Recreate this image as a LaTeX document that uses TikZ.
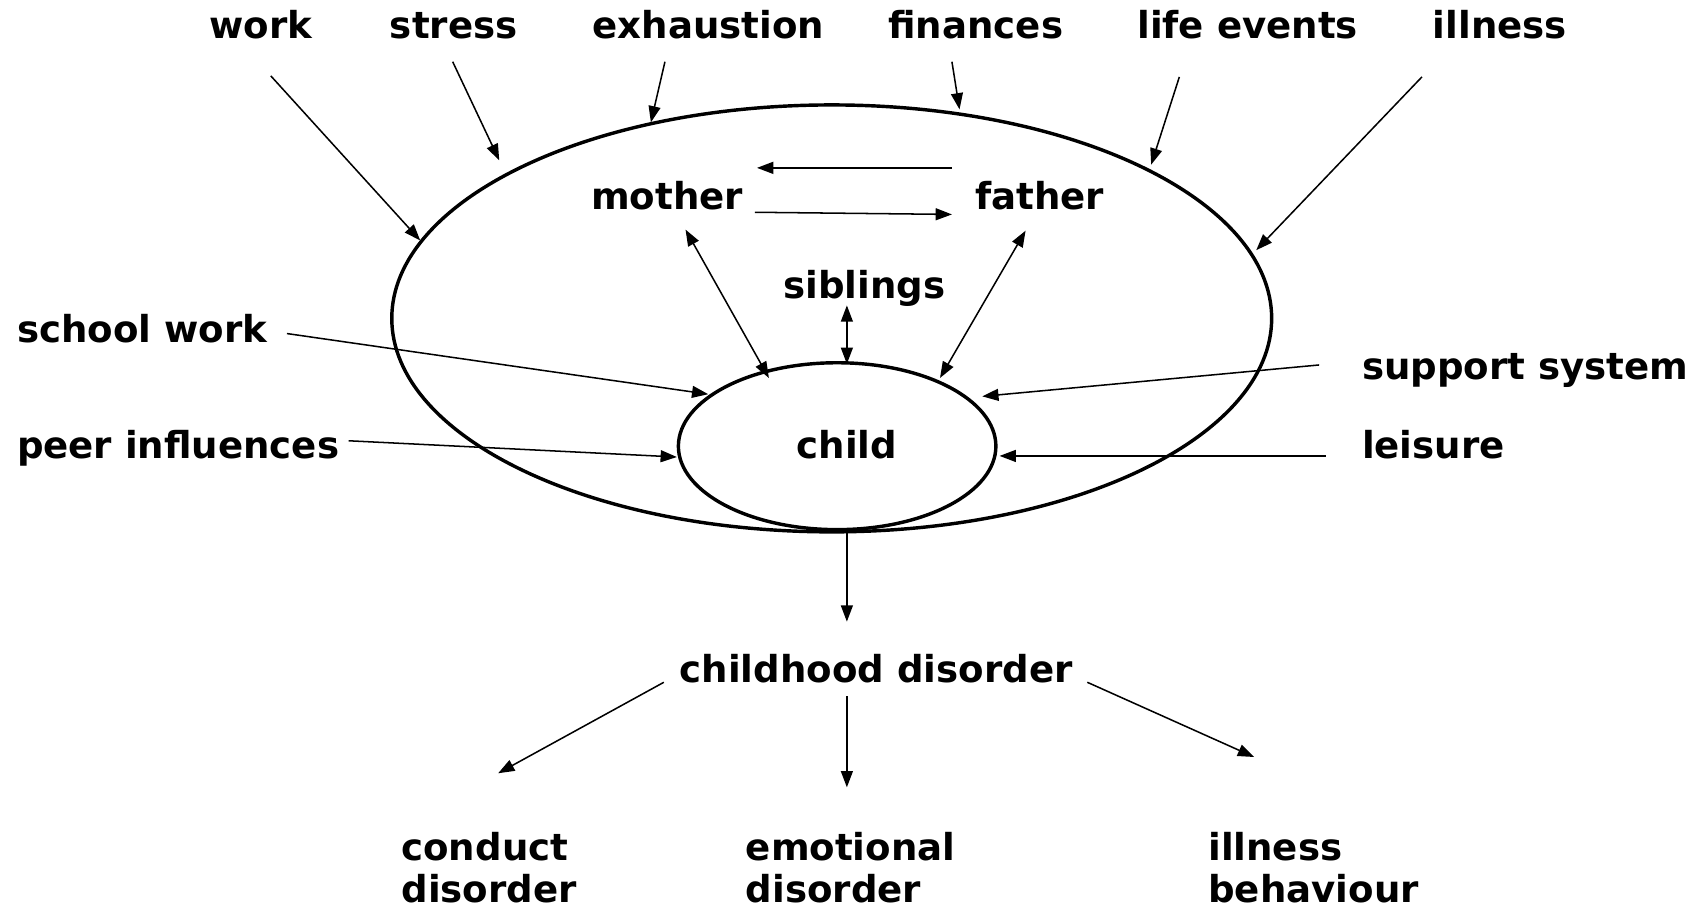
\documentclass[tikz,border=0pt]{standalone}
\usepackage{fontspec}
\setmainfont{DejaVu Sans}
\usetikzlibrary{arrows.meta,shapes.geometric}
\begin{document}
\begin{tikzpicture}[x=0.01cm,y=-0.01cm,
  lbl/.style={font=\fontsize{9.75pt}{11.4pt}\selectfont\bfseries, inner sep=0pt},
  arr/.style={line width=0.4pt, -{Triangle[length=0.15cm,width=0.11cm]}},
  darr/.style={line width=0.4pt, {Triangle[length=0.15cm,width=0.11cm]}-{Triangle[length=0.15cm,width=0.11cm]}},
  ring/.style={draw, ellipse, line width=0.9pt, inner sep=0pt}]
\useasboundingbox (0,0) rectangle (1567,839);
% ellipses
\node[ring, minimum width=8.12cm, minimum height=3.94cm] (family) at (768,294) {};
\node[ring, minimum width=2.93cm, minimum height=1.54cm] (childring) at (773,412) {};
% labels
\node[lbl, anchor=base] (work) at (241,36) {work};
\node[lbl, anchor=base] (stress) at (419,36) {stress};
\node[lbl, anchor=base] (exhaustion) at (654,36) {exhaustion};
\node[lbl, anchor=base] (finances) at (901,36) {finances};
\node[lbl, anchor=base] (lifeevents) at (1152,36) {life events};
\node[lbl, anchor=base] (illness) at (1385,36) {illness};
\node[lbl, anchor=base] (mother) at (616,193) {mother};
\node[lbl, anchor=base] (father) at (960,193) {father};
\node[lbl, anchor=base] (siblings) at (798,276) {siblings};
\node[lbl, anchor=base west] (school) at (15,316) {school work};
\node[lbl, anchor=base west] (peer) at (15,423) {peer influences};
\node[lbl, anchor=base] (child) at (782,423) {child};
\node[lbl, anchor=base west] (support) at (1257,350) {support system};
\node[lbl, anchor=base west] (leisure) at (1257,423) {leisure};
\node[lbl, anchor=base] (childhood) at (809,630) {childhood disorder};
\node[lbl, anchor=base west] (conductA) at (370,795) {conduct};
\node[lbl, anchor=base west] (conductB) at (370,833) {disorder};
\node[lbl, anchor=base west] (emotionalA) at (688,795) {emotional};
\node[lbl, anchor=base west] (emotionalB) at (688,833) {disorder};
\node[lbl, anchor=base west] (illbehA) at (1115,795) {illness};
\node[lbl, anchor=base west] (illbehB) at (1115,833) {behaviour};
% connector end points
\coordinate (w1) at (250,70);   \coordinate (w2) at (388,222);
\coordinate (s1) at (418,57);   \coordinate (s2) at (461,148);
\coordinate (e1) at (614,57);   \coordinate (e2) at (601,113);
\coordinate (f1) at (879,57);   \coordinate (f2) at (886,101);
\coordinate (l1) at (1089,71);  \coordinate (l2) at (1063,152);
\coordinate (i1) at (1313,71);  \coordinate (i2) at (1160,231);
\coordinate (fm1) at (879,155); \coordinate (fm2) at (699,155);
\coordinate (mf1) at (697,196); \coordinate (mf2) at (879,198);
\coordinate (mc1) at (633,212); \coordinate (mc2) at (710,349);
\coordinate (sc1) at (782,282); \coordinate (sc2) at (782,336);
\coordinate (fc1) at (947,213); \coordinate (fc2) at (868,349);
\coordinate (sw1) at (265,308); \coordinate (sw2) at (654,364);
\coordinate (pi1) at (322,407); \coordinate (pi2) at (625,422);
\coordinate (ss1) at (1218,337);\coordinate (ss2) at (907,366);
\coordinate (le1) at (1224,421);\coordinate (le2) at (923,421);
\coordinate (cd1) at (782,491); \coordinate (cd2) at (782,574);
\coordinate (co1) at (613,630); \coordinate (co2) at (460,714);
\coordinate (em1) at (782,643); \coordinate (em2) at (782,727);
\coordinate (ib1) at (1004,630);\coordinate (ib2) at (1158,699);
% connectors
\draw[arr] (w1) -- (w2);
\draw[arr] (s1) -- (s2);
\draw[arr] (e1) -- (e2);
\draw[arr] (f1) -- (f2);
\draw[arr] (l1) -- (l2);
\draw[arr] (i1) -- (i2);
\draw[arr] (fm1) -- (fm2);
\draw[arr] (mf1) -- (mf2);
\draw[darr] (mc1) -- (mc2);
\draw[darr] (sc1) -- (sc2);
\draw[darr] (fc1) -- (fc2);
\draw[arr] (sw1) -- (sw2);
\draw[arr] (pi1) -- (pi2);
\draw[arr] (ss1) -- (ss2);
\draw[arr] (le1) -- (le2);
\draw[arr] (cd1) -- (cd2);
\draw[arr] (co1) -- (co2);
\draw[arr] (em1) -- (em2);
\draw[arr] (ib1) -- (ib2);
\end{tikzpicture}
\end{document}
